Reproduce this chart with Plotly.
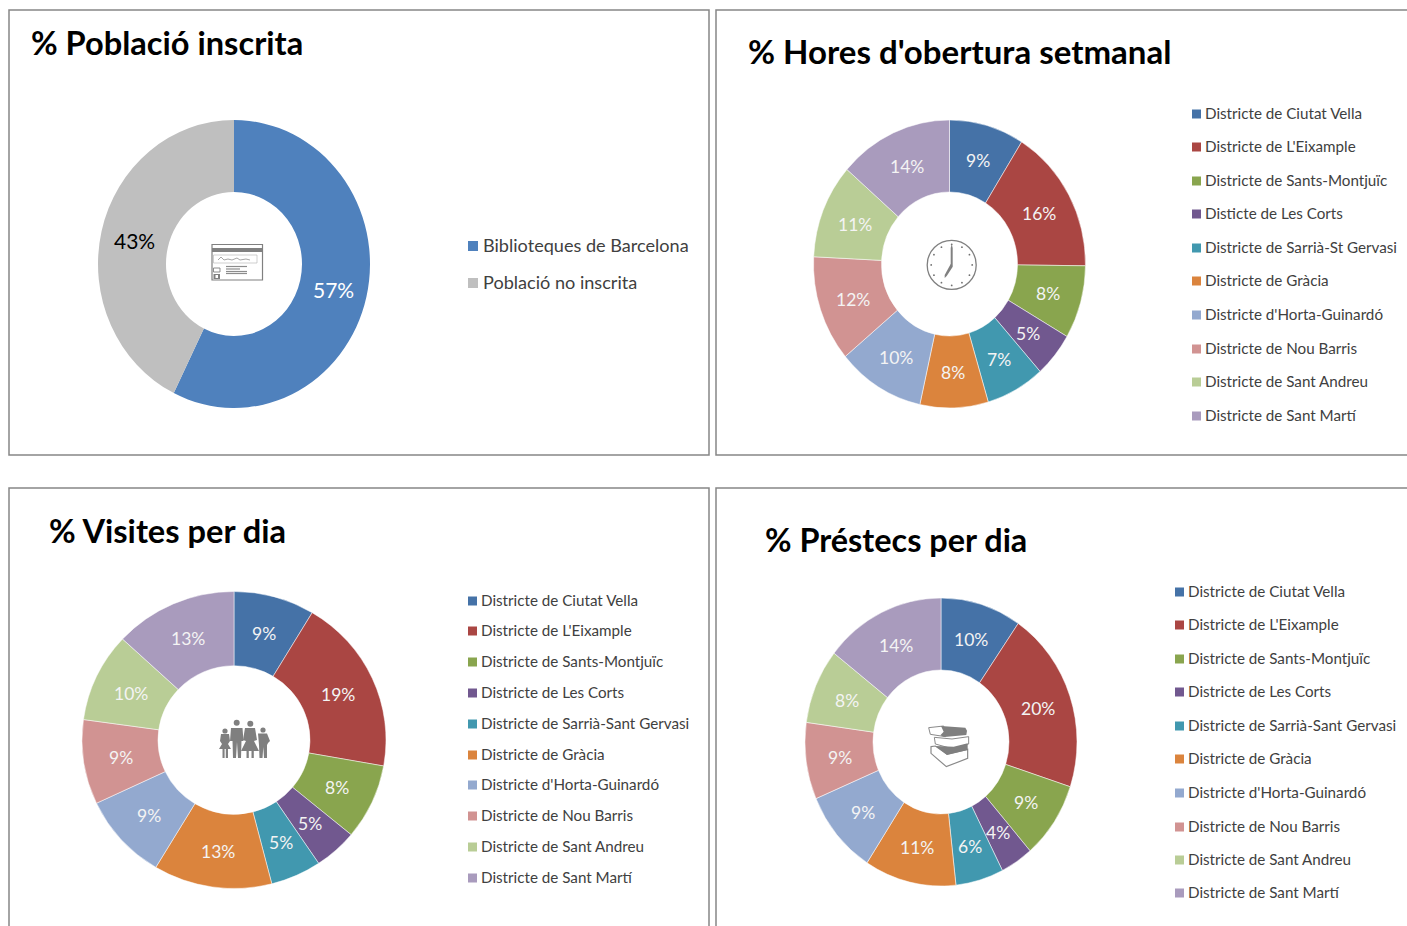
import plotly.graph_objects as go
import math
import json

W, H = 1407, 926
FONT = "Lato"

inscrita_labels = ["Biblioteques de Barcelona", "Població no inscrita"]
inscrita_values = [57.3, 42.7]

hores_labels = ["Districte de Ciutat Vella", "Districte de L'Eixample", "Districte de Sants-Montjuïc",
                "Disticte de Les Corts", "Districte de Sarrià-St Gervasi", "Districte de Gràcia",
                "Districte d'Horta-Guinardó", "Districte de Nou Barris", "Districte de Sant Andreu",
                "Districte de Sant Martí"]
hores_values = [8.9, 16.3, 8.2, 5.0, 7.0, 8.1, 10.4, 11.9, 10.6, 13.6]

districtes_labels = ["Districte de Ciutat Vella", "Districte de L'Eixample", "Districte de Sants-Montjuïc",
                     "Districte de Les Corts", "Districte de Sarrià-Sant Gervasi", "Districte de Gràcia",
                     "Districte d'Horta-Guinardó", "Districte de Nou Barris", "Districte de Sant Andreu",
                     "Districte de Sant Martí"]
visites_values = [8.6, 19.2, 8.2, 4.6, 5.4, 12.6, 9.4, 9.2, 9.7, 13.1]
prestecs_values = [9.6, 20.4, 8.6, 3.9, 5.7, 10.9, 9.4, 8.6, 8.4, 14.4]

colors_two = ["#4F81BD", "#BFBFBF"]
colors_ten = ["#4572A7", "#AA4643", "#89A54E", "#71588F", "#4198AF",
              "#DB843D", "#93A9CF", "#D19392", "#B9CD96", "#A99BBD"]


def X(px):
    return px / W


def Y(py):
    return 1 - py / H


def P(points, close=True):
    s = "M " + " L ".join(f"{X(a):.5f},{Y(b):.5f}" for a, b in points)
    return s + (" Z" if close else "")


fig = go.Figure()
shapes, annotations = [], []
stretch = []


def donut(labels, values, colors, cx, cy, rx, ry, txtcolors, size, line):
    # the reference is slightly anamorphic: each pie is an ellipse (rx, ry)
    r = rx
    stretch.append([cx, cy, ry / rx])
    fig.add_trace(go.Pie(
        labels=labels, values=values, sort=False, direction="clockwise", rotation=0, hole=0.5,
        domain=dict(x=[X(cx - r), X(cx + r)], y=[Y(cy + r), Y(cy - r)]),
        marker=dict(colors=colors, line=dict(color="white", width=line)),
        textinfo="none", hoverinfo="label+percent", showlegend=False))
    # percentage labels sit at the middle of the ring, in the middle of each slice
    total = sum(values)
    cum = 0
    for v, col in zip(values, txtcolors):
        a = 2 * math.pi * (cum + v / 2) / total
        cum += v
        annotations.append(dict(text=f"{round(100 * v / total)}%", xref="paper", yref="paper",
                                x=X(cx + 0.75 * rx * math.sin(a)), y=Y(cy - 0.75 * ry * math.cos(a) + 0.8),
                                xanchor="center", yanchor="middle", showarrow=False,
                                font=dict(family=FONT, size=size, color=col)))


def panel(x0, y0, x1, y1):
    shapes.append(dict(type="rect", xref="paper", yref="paper", x0=X(x0), x1=X(x1), y0=Y(y0), y1=Y(y1),
                       line=dict(color="#868686", width=1.5), fillcolor="rgba(0,0,0,0)", layer="below"))


def title(text, x, y, size):
    annotations.append(dict(text=f"<b>{text}</b>", xref="paper", yref="paper", x=X(x), y=Y(y),
                            xanchor="left", yanchor="middle", showarrow=False,
                            font=dict(family=FONT, size=size, color="#000000")))


def legend(labels, colors, xs, xt, ys, size, sw):
    for lab, col, yy in zip(labels, colors, ys):
        shapes.append(dict(type="rect", xref="paper", yref="paper", x0=X(xs), x1=X(xs + sw),
                           y0=Y(yy - sw / 2), y1=Y(yy + sw / 2), fillcolor=col, line=dict(width=0)))
        annotations.append(dict(text=lab, xref="paper", yref="paper", x=X(xt), y=Y(yy - 1), xanchor="left",
                                yanchor="middle", showarrow=False,
                                font=dict(family=FONT, size=size, color="#404040")))


def poly(points, fill="#808080", lw=0, lc="#808080", close=True):
    shapes.append(dict(type="path", xref="paper", yref="paper", path=P(points, close),
                       fillcolor=fill if close else "rgba(0,0,0,0)",
                       line=dict(width=lw, color=lc)))


def circ(cx, cy, r, fill="#808080", lw=0, lc="#808080"):
    shapes.append(dict(type="circle", xref="paper", yref="paper", x0=X(cx - r), x1=X(cx + r),
                       y0=Y(cy + r), y1=Y(cy - r), fillcolor=fill, line=dict(width=lw, color=lc)))


def rect(x0, y0, x1, y1, fill="#808080", lw=0, lc="#808080"):
    poly([(x0, y0), (x1, y0), (x1, y1), (x0, y1)], fill, lw, lc)


panel(9, 10, 709, 455)
panel(716, 10, 1420, 455)
panel(9, 488, 709, 940)
panel(716, 488, 1420, 940)

ten_white = ["#F4F4F4"] * 10
donut(inscrita_labels, inscrita_values, colors_two, 234, 264, 136, 144, ["#FFFFFF", "#000000"], 21, 0)
donut(hores_labels, hores_values, colors_ten, 949.5, 264, 136, 144, ten_white, 17.5, 0.5)
donut(districtes_labels, visites_values, colors_ten, 234, 740, 152, 148.5, ten_white, 17.5, 0.5)
donut(districtes_labels, prestecs_values, colors_ten, 941, 742, 136, 144, ten_white, 17.5, 0.5)

title("% Població inscrita", 29, 42, 32.6)
title("% Hores d'obertura setmanal", 746, 51, 33)
title("% Visites per dia", 47, 530.5, 32.6)
title("% Préstecs per dia", 763, 539.5, 32.4)

legend(inscrita_labels, colors_two, 468, 481, [246, 283], 18.1, 10)
legend(hores_labels, colors_ten, 1192, 1203, [114, 147, 181, 214, 248, 281, 315, 349, 382, 416], 15.2, 9)
legend(districtes_labels, colors_ten, 468, 479, [601, 631, 662, 693, 724, 755, 785, 816, 847, 878], 15.2, 9)
legend(districtes_labels, colors_ten, 1175, 1186, [592, 625, 659, 692, 726, 759, 793, 827, 860, 893], 15.2, 9)

# Card icon
G = "#808080"
rect(212, 244.5, 262.5, 280, "#FFFFFF", 1.2, G)
rect(212, 248, 262.5, 252, G)
rect(213.5, 255, 257, 263, "#FFFFFF", 0.6, "#B0B0B0")
poly([(218, 260), (221, 257), (224, 260), (228, 259), (232, 260), (237, 258), (240, 260), (246, 259), (250, 260)],
     lw=0.7, lc="#808080", close=False)
for yy in (266.5, 269, 271.5, 273.5):
    rect(226, yy - 0.6, 247 if yy != 269 else 240, yy + 0.6, "#8C8C8C")
rect(213.5, 268, 220, 272, "#FFFFFF", 0.9, G)
rect(213.5, 274, 220, 279, G)
rect(215.5, 275, 218, 278, "#FFFFFF")

# Clock icon
cxc, cyc = 951.7, 264.9
circ(cxc, cyc, 24.5, "#FFFFFF", 1.3, G)
for i in range(12):
    a = math.radians(i * 30)
    circ(cxc + 20.5 * math.sin(a), cyc - 20.5 * math.cos(a), 0.9, "#707070")
poly([(cxc - 1, cyc + 1), (cxc - 1, cyc - 17), (cxc, cyc - 21), (cxc + 1, cyc - 17), (cxc + 1, cyc + 1)], G)
poly([(cxc - 1, cyc - 1), (cxc + 1.2, cyc + 1.5), (cxc - 5, cyc + 11), (cxc - 7, cyc + 13), (cxc - 7, cyc + 10)], G)

# Family icon
F = "#7F7F7F"
circ(225, 731, 2.6, F)
poly([(221, 734), (229, 734), (230, 741), (228, 744), (231, 749), (219, 749), (222, 744), (220, 741)], F)
rect(222.5, 749, 224.6, 758, F)
rect(225.8, 749, 228, 758, F)
circ(236.7, 722.8, 3, F)
poly([(231, 728), (242.5, 728), (243.5, 741), (241.5, 741), (241, 758), (238, 758), (237, 742), (236, 758), (233, 758),
      (232.5, 741), (230, 741)], F)
circ(250.3, 723.8, 3, F)
poly([(245, 728), (255, 728), (257, 740), (254, 741), (259, 751), (241, 751), (246, 741), (243, 740)], F)
rect(246.5, 751, 248.8, 758, F)
rect(251.5, 751, 253.8, 758, F)
circ(263, 730, 2.6, F)
poly([(258, 733.5), (267, 733.5), (270, 741), (268, 743), (267, 745), (267, 758), (264, 758), (263.3, 747), (262.5, 758),
      (259.5, 758), (259, 745)], F)


def z(pts):
    return [(797 + a / 3, 590 + b / 3) for a, b in pts]


poly(z([(412, 442), (465, 447), (515, 440), (515, 462), (465, 476), (415, 462)]), "#FFFFFF", 1.0, "#8A8A8A")
poly(z([(402, 470), (415, 468), (450, 492), (512, 478), (512, 505), (448, 530), (402, 490)]), "#FFFFFF", 1.2, "#8A8A8A")
poly(z([(415, 468), (470, 470), (512, 460), (512, 480), (450, 495)]), "#7F7F7F")
poly(z([(395, 413), (440, 408), (445, 440), (400, 433)]), "#FFFFFF", 1.0, "#8A8A8A")
poly(z([(432, 408), (505, 413), (510, 422), (508, 435), (442, 441), (430, 436), (440, 425)]), "#7F7F7F")

fig.update_layout(width=W, height=H, margin=dict(l=0, r=0, t=0, b=0), autosize=False,
                  paper_bgcolor="white", plot_bgcolor="white", showlegend=False,
                  shapes=shapes, annotations=annotations, font=dict(family=FONT))

js = """
document.body.style.margin='0';document.body.style.overflow='hidden';
var stretch = %s;
document.querySelectorAll('.pielayer .trace').forEach(function(t, i){
  var s = stretch[i];
  t.querySelectorAll('g.slice').forEach(function(g){
    g.setAttribute('transform','translate(0,'+s[1]+') scale(1,'+s[2]+') translate(0,'+(-s[1])+')');
  });
});
""" % json.dumps(stretch)
fig.write_html("out.html", post_script=js, config=dict(displayModeBar=False))
